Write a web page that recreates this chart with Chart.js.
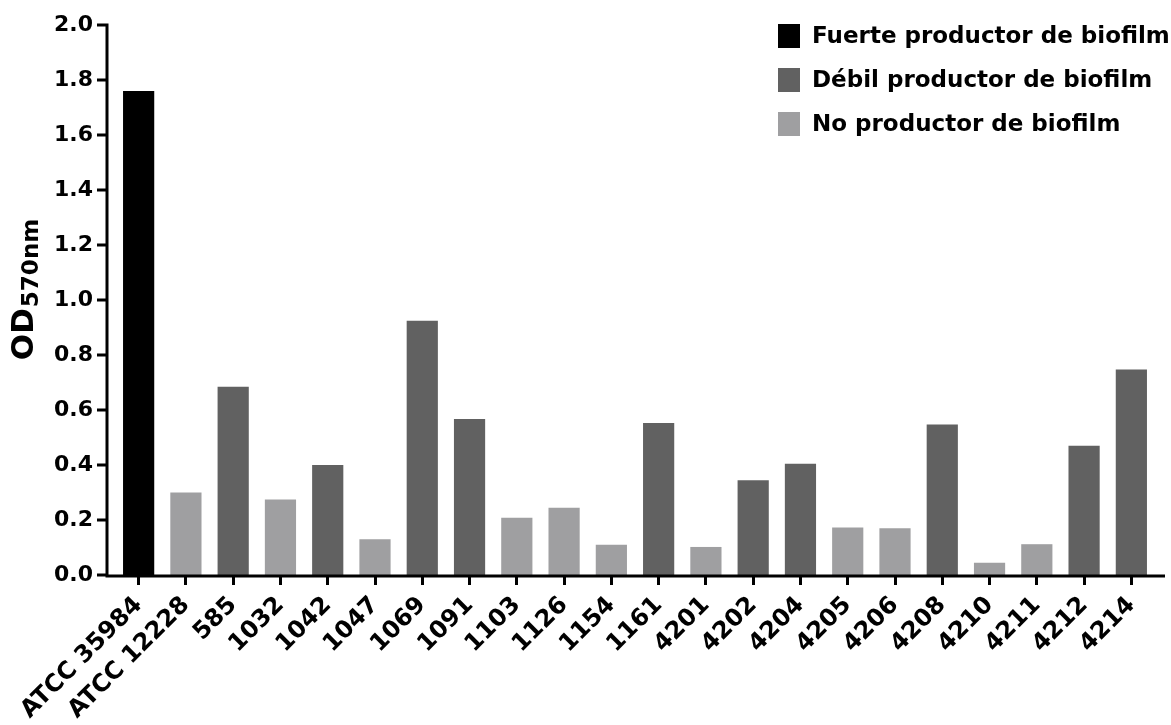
<!DOCTYPE html>
<html>
<head>
<meta charset="utf-8">
<script src="https://cdn.jsdelivr.net/npm/chart.js@4"></script>
<style>
  body { margin: 0; background: #fff; }
  #wrap { width: 1171px; height: 725px; }
</style>
</head>
<body>
<div id="wrap"><canvas id="biofilmChart"></canvas></div>
<script>
const strains = ['ATCC 35984', 'ATCC 12228', '585', '1032', '1042', '1047', '1069', '1091',
  '1103', '1126', '1154', '1161', '4201', '4202', '4204', '4205', '4206', '4208',
  '4210', '4211', '4212', '4214'];
const od570 = [1.76, 0.30, 0.685, 0.275, 0.40, 0.13, 0.925, 0.567, 0.208, 0.245, 0.11,
  0.553, 0.102, 0.345, 0.405, 0.173, 0.17, 0.547, 0.045, 0.112, 0.47, 0.747];
// 0 = fuerte, 1 = debil, 2 = no productor
const producerGroup = [0, 2, 1, 2, 1, 2, 1, 1, 2, 2, 2, 1, 2, 1, 1, 2, 2, 1, 2, 2, 1, 1];
const groupNames = ['Fuerte productor de biofilm', 'Débil productor de biofilm', 'No productor de biofilm'];
const groupColors = ['#000000', '#616161', '#9f9fa1'];
const yTicks = [0, 0.2, 0.4, 0.6, 0.8, 1.0, 1.2, 1.4, 1.6, 1.8, 2.0];

const FONT = 'DejaVu Sans';

// ejes dibujados a mano (estilo Prism: el eje Y separado de la primera barra)
const axesPlugin = {
  id: 'prismAxes',
  afterDatasetsDraw(chart) {
    const ctx = chart.ctx;
    const y = chart.scales.y;
    const area = chart.chartArea;
    const axisX = area.left - 8;
    const y0 = y.getPixelForValue(0);
    ctx.save();
    ctx.strokeStyle = '#000';
    ctx.lineWidth = 3;
    ctx.beginPath();
    ctx.moveTo(axisX, y.getPixelForValue(2.0) - 1.5);
    ctx.lineTo(axisX, y0 + 2.5);
    ctx.moveTo(axisX - 1.5, y0 + 1);
    ctx.lineTo(area.right + 10, y0 + 1);
    yTicks.forEach(v => {
      const py = y.getPixelForValue(v);
      ctx.moveTo(axisX - 10, py);
      ctx.lineTo(axisX, py);
    });
    ctx.stroke();
    ctx.restore();
  },
  afterDraw(chart) {
    const ctx = chart.ctx;
    ctx.save();
    // leyenda
    ctx.font = 'bold 23px "' + FONT + '"';
    ctx.textBaseline = 'middle';
    ctx.textAlign = 'left';
    groupNames.forEach((name, i) => {
      const cy = 36 + i * 44;
      ctx.fillStyle = groupColors[i];
      ctx.fillRect(778, cy - 12, 22, 24);
      ctx.fillStyle = '#000';
      ctx.fillText(name, 812, cy + 1);
    });
    // titulo eje Y con subindice
    ctx.translate(33, 290);
    ctx.rotate(-Math.PI / 2);
    ctx.textBaseline = 'alphabetic';
    ctx.font = 'bold 31px "' + FONT + '"';
    const wMain = ctx.measureText('OD').width;
    ctx.font = 'bold 23px "' + FONT + '"';
    const wSub = ctx.measureText('570nm').width;
    const start = -(wMain + wSub) / 2;
    ctx.font = 'bold 31px "' + FONT + '"';
    ctx.fillText('OD', start, 0);
    ctx.font = 'bold 23px "' + FONT + '"';
    ctx.fillText('570nm', start + wMain + 1, 5);
    ctx.restore();
  }
};

const ctx = document.getElementById('biofilmChart').getContext('2d');
new Chart(ctx, {
  type: 'bar',
  data: {
    labels: strains,
    datasets: [{
      label: 'OD570nm',
      data: od570,
      backgroundColor: producerGroup.map(g => groupColors[g]),
      borderWidth: 0,
      categoryPercentage: 1.0,
      barPercentage: 0.66
    }]
  },
  options: {
    responsive: true,
    maintainAspectRatio: false,
    animation: false,
    layout: { padding: { left: 0, right: 16, top: 25, bottom: 0 } },
    plugins: {
      legend: { display: false },
      tooltip: { enabled: false }
    },
    scales: {
      x: {
        offset: true,
        afterFit: scale => { scale.height = 150; },
        border: { display: false },
        grid: {
          offset: false,
          drawOnChartArea: false,
          drawTicks: true,
          tickLength: 10,
          color: '#000',
          lineWidth: 3
        },
        ticks: {
          color: '#000',
          font: { family: FONT, weight: 'bold', size: 24 },
          minRotation: 45,
          maxRotation: 45,
          autoSkip: false,
          padding: 6
        }
      },
      y: {
        min: 0,
        max: 2.0,
        afterFit: scale => {
          scale.width = 115;
          scale.paddingTop = 0;
          scale.paddingBottom = 0;
        },
        afterBuildTicks: scale => { scale.ticks = yTicks.map(v => ({ value: v })); },
        border: { display: false },
        grid: { display: false, drawTicks: false },
        ticks: {
          color: '#000',
          font: { family: FONT, weight: 'bold', size: 22 },
          padding: 22,
          callback: v => v.toFixed(1)
        }
      }
    }
  },
  plugins: [axesPlugin]
});
</script>
</body>
</html>
